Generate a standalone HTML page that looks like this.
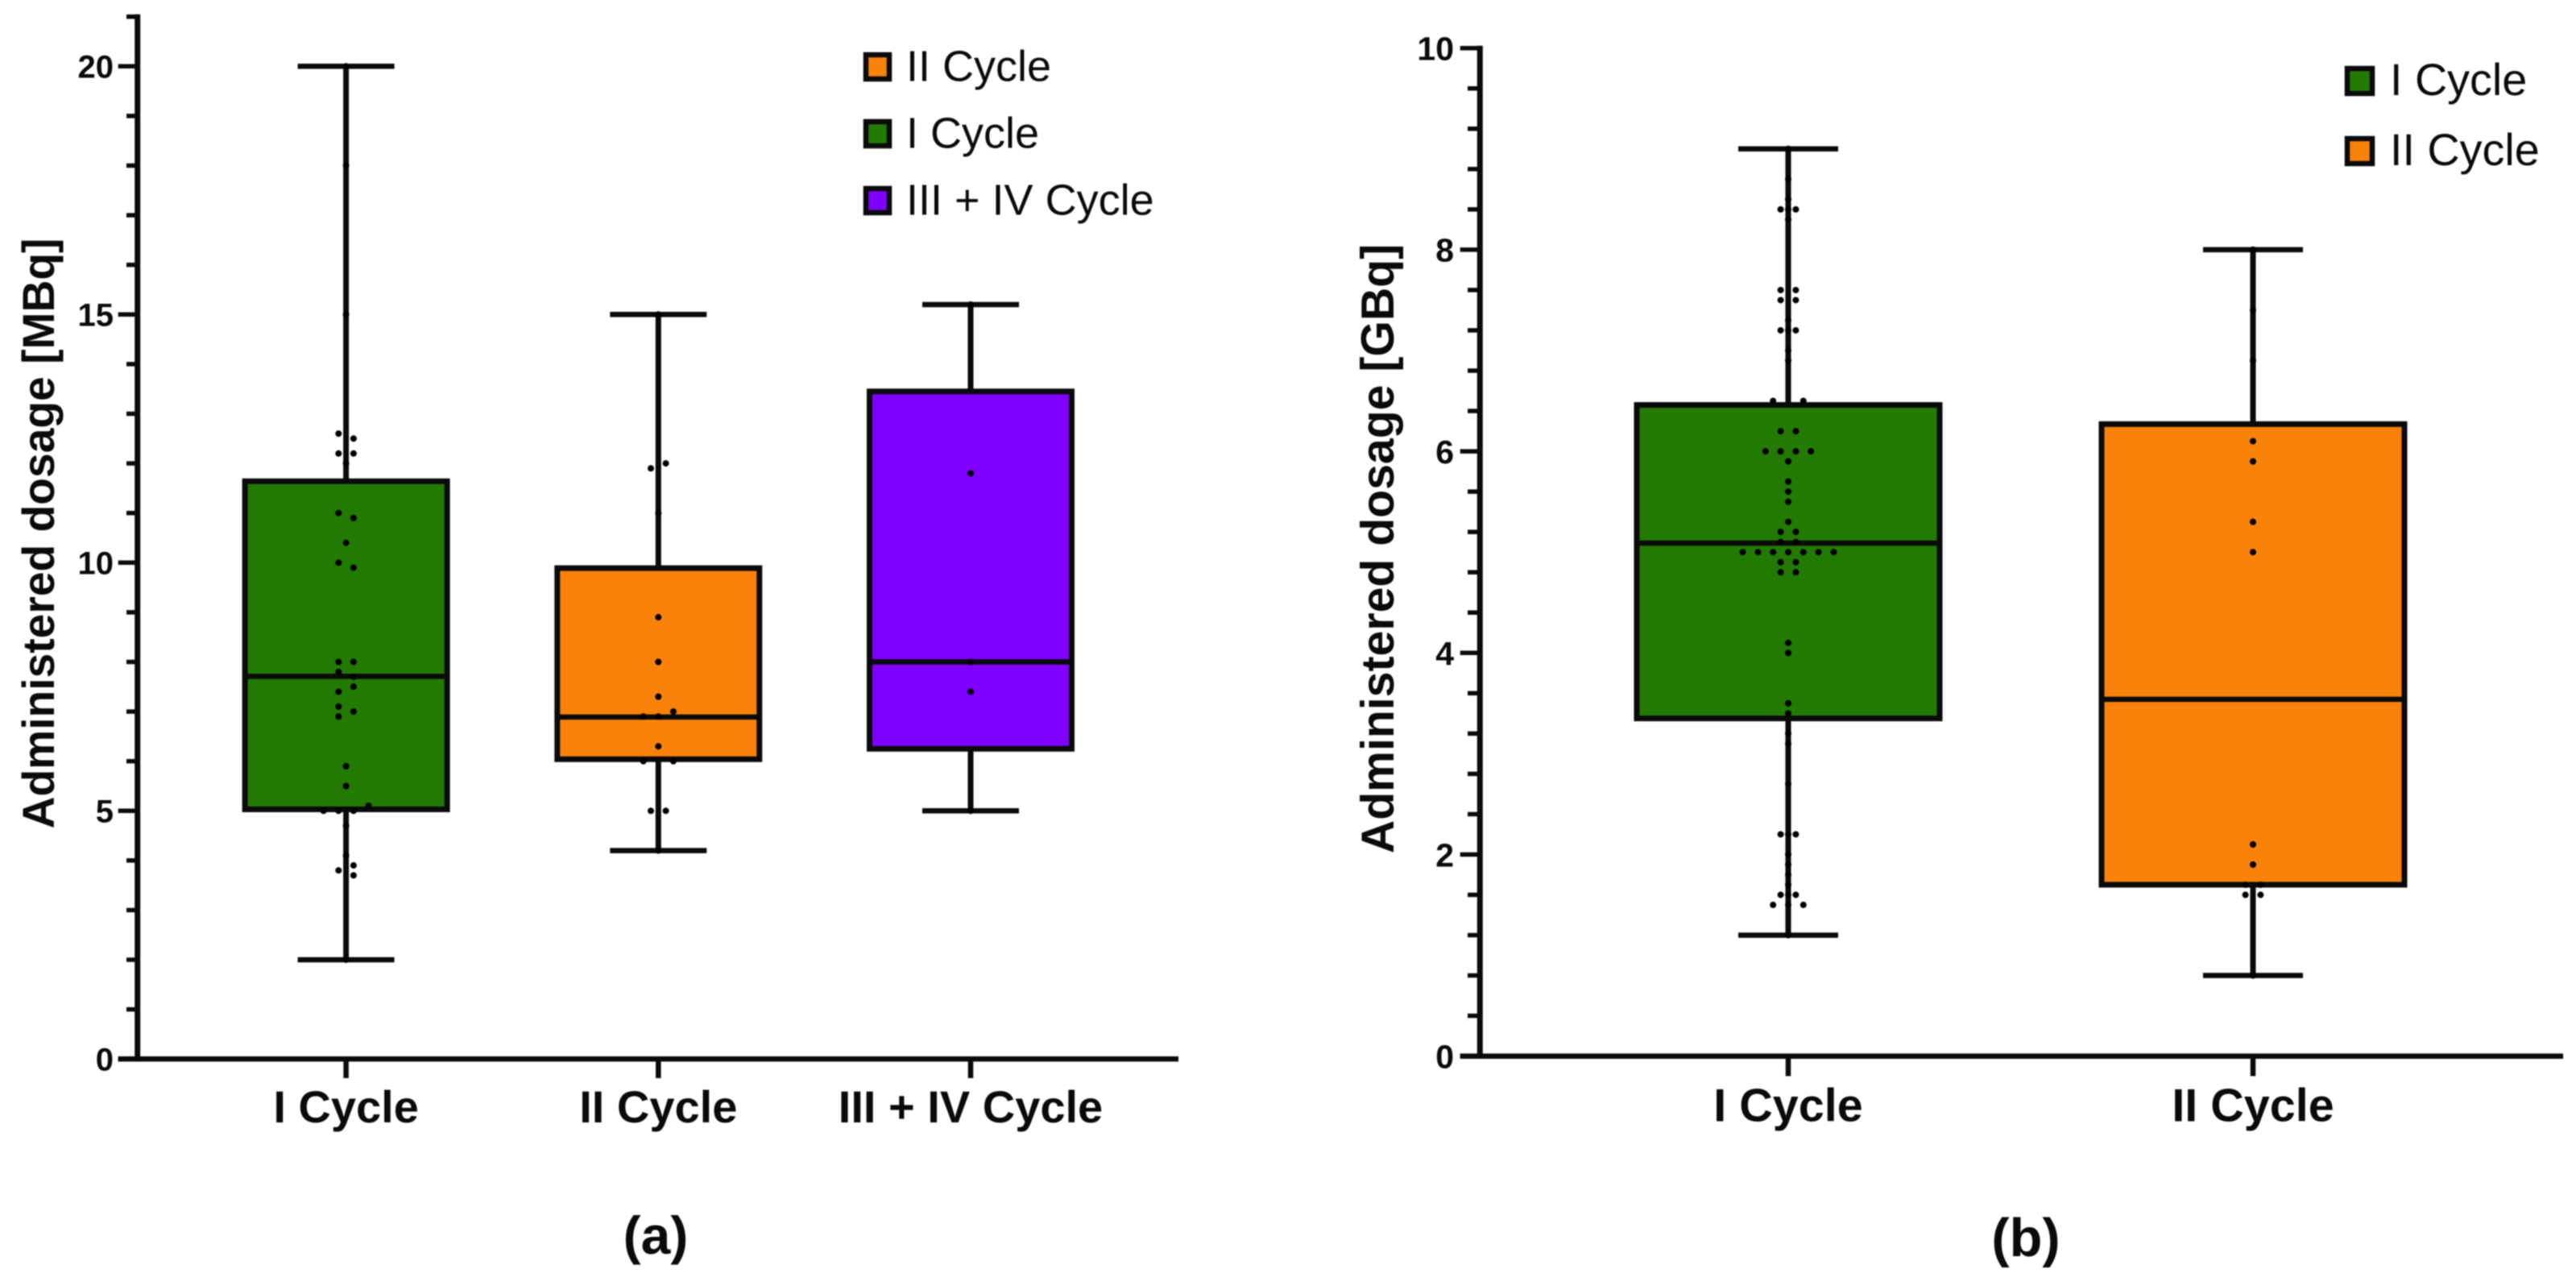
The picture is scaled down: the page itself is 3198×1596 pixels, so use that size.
<!DOCTYPE html>
<html lang="en">
<head>
<meta charset="utf-8">
<title>Administered dosage by treatment cycle</title>
<style>
html,body{margin:0;padding:0;background:#fff;}
body{width:3198px;height:1596px;overflow:hidden;}
svg{display:block;filter:blur(0.9px);font-family:"Liberation Sans",sans-serif;}
text{fill:#0a0a0a;}
.bold{font-weight:700;}
</style>
</head>
<body>
<svg id="figure" xmlns="http://www.w3.org/2000/svg" width="3198" height="1596" viewBox="0 0 3198 1596">
  <rect x="0" y="0" width="3198" height="1596" fill="#ffffff"/>

  <g id="panel-a"></g>
  <g id="panel-b"></g>

  <text class="bold" font-size="55.2" text-anchor="middle" transform="translate(67 662) rotate(-90)">Administered dosage [MBq]</text>
  <text class="bold" font-size="57.2" text-anchor="middle" transform="translate(1730 681) rotate(-90)">Administered dosage [GBq]</text>

  <g>
    <g>
      <rect x="1075" y="68" width="29" height="30" fill="#f9820a" stroke="#0a0a0a" stroke-width="6.5"/>
      <text x="1125" y="100.5" font-size="54">II Cycle</text>
    </g>
    <g>
      <rect x="1075" y="151" width="29" height="30" fill="#227a02" stroke="#0a0a0a" stroke-width="6.5"/>
      <text x="1125" y="183.5" font-size="54">I Cycle</text>
    </g>
    <g>
      <rect x="1075" y="234" width="29" height="30" fill="#7f00ff" stroke="#0a0a0a" stroke-width="6.5"/>
      <text x="1125" y="266.5" font-size="54">III + IV Cycle</text>
    </g>
  </g>

  <g>
    <g>
      <rect x="2914" y="85" width="31" height="31" fill="#227a02" stroke="#0a0a0a" stroke-width="6.5"/>
      <text x="2967" y="118" font-size="55.7">I Cycle</text>
    </g>
    <g>
      <rect x="2914" y="172" width="31" height="31" fill="#f9820a" stroke="#0a0a0a" stroke-width="6.5"/>
      <text x="2967" y="205" font-size="55.7">II Cycle</text>
    </g>
  </g>

  <text class="bold" x="814" y="1556" font-size="66" text-anchor="middle">(a)</text>
  <text class="bold" x="2515" y="1559" font-size="66.8" text-anchor="middle">(b)</text>
</svg>

<script>
// ---- Panel (a) data, MBq ----
const categoriesA = ['I Cycle', 'II Cycle', 'III + IV Cycle'];
const colorsA = ['#227a02', '#f9820a', '#7f00ff'];
const whiskerLowA = [2, 4.2, 5];
const q1A = [5.03, 6.04, 6.25];
const medianA = [7.71, 6.89, 8];
const q3A = [11.64, 9.89, 13.45];
const whiskerHighA = [20, 15, 15.2];
const majorTicksA = [0, 5, 10, 15, 20];
const minorTicksA = [1, 2, 3, 4, 6, 7, 8, 9, 11, 12, 13, 14, 16, 17, 18, 19, 21];

const pointValuesA1 = [20, 18, 15, 12.6, 12.5, 12.2, 12.2, 12, 11, 10.9, 10.4, 10, 9.9, 8, 8, 7.8, 7.7, 7.5, 7.4, 7.1, 7, 6.9, 5.9, 5.5, 5.1, 5, 5, 5, 4.7, 4.1, 3.9, 3.8, 3.7, 2];
const pointSwarmA1  = [0, 0, 0, -1, 1, -1, 1, 0, -1, 1, 0, -1, 1, -1, 1, -1, 1, 1, -1, -1, 1, -1, 0, 0, 3, -3, -1, 1, 0, 0, 1, -1, 1, 0];
const pointValuesA2 = [15, 12, 11.9, 11, 8.9, 8, 7.3, 7, 6.9, 6.9, 6.3, 6, 6, 5, 5, 4.2];
const pointSwarmA2  = [0, 1, -1, 0, 0, 0, 0, 2, -2, 0, 0, -2, 2, -1, 1, 0];
const pointValuesA3 = [15.2, 11.8, 8, 7.4, 5];
const pointSwarmA3  = [0, 0, 0, 0, 0];

// ---- Panel (b) data, GBq ----
const categoriesB = ['I Cycle', 'II Cycle'];
const colorsB = ['#227a02', '#f9820a'];
const whiskerLowB = [1.2, 0.8];
const q1B = [3.35, 1.7];
const medianB = [5.09, 3.54];
const q3B = [6.46, 6.27];
const whiskerHighB = [9, 8];
const majorTicksB = [0, 2, 4, 6, 8, 10];
const minorTicksB = [0.4, 0.8, 1.2, 1.6, 2.4, 2.8, 3.2, 3.6, 4.4, 4.8, 5.2, 5.6, 6.4, 6.8, 7.2, 7.6, 8.4, 8.8, 9.2, 9.6];

const pointValuesB1 = [9, 8.7, 8.5, 8.4, 8.4, 8.4, 8.3, 7.6, 7.6, 7.5, 7.5, 7.3, 7.2, 7.2, 7.2, 7, 6.9, 6.5, 6.5, 6.2, 6.2, 6, 6, 6, 6, 5.9, 5.7, 5.6, 5.5, 5.3, 5.2, 5.2, 5.1, 5.1, 5, 5, 5, 5, 5, 5, 5, 4.9, 4.9, 4.8, 4.8, 4.1, 4, 3.5, 3.4, 3.2, 3.1, 2.7, 2.2, 2.2, 2.2, 2, 1.9, 1.8, 1.7, 1.6, 1.6, 1.6, 1.5, 1.5, 1.5, 1.2];
const pointSwarmB1  = [0, 0, 0, -1, 0, 1, 0, -1, 1, -1, 1, 0, -1, 0, 1, 0, 0, -2, 2, -1, 1, -3, -1, 1, 3, 0, 0, 0, 0, 0, -1, 1, -1, 1, -6, -4, -2, 0, 2, 4, 6, -1, 1, -1, 1, 0, 0, 0, 0, 0, 0, 0, -1, 0, 1, 0, 0, 0, 0, -1, 0, 1, -2, 0, 2, 0];
const pointValuesB2 = [8, 7.4, 6.9, 6.1, 5.9, 5.3, 5, 2.1, 1.9, 1.7, 1.7, 1.6, 1.6, 0.8];
const pointSwarmB2  = [0, 0, 0, 0, 0, 0, 0, 0, 0, -1, 1, -1, 1, 0];

const INK = '#0a0a0a';
const SVG_NS = 'http://www.w3.org/2000/svg';

function makeEl(tag, parent, attrs) {
  const el = document.createElementNS(SVG_NS, tag);
  for (const key in attrs) el.setAttribute(key, attrs[key]);
  parent.appendChild(el);
  return el;
}

function drawPanel(root, cfg) {
  const y = v => cfg.y0 - v * cfg.pxPerUnit;
  const x = i => cfg.x0 + i * cfg.step;

  // boxes, whiskers, medians
  cfg.categories.forEach((cat, i) => {
    const cx = x(i);
    const series = makeEl('g', root, {});
    
    

    const stem = makeEl('line', series, {x1: cx, x2: cx, y1: y(cfg.whiskerLow[i]), y2: y(cfg.whiskerHigh[i]), stroke: INK, 'stroke-width': 7});
    
    

    const capHigh = makeEl('line', series, {x1: cx - cfg.capHalf, x2: cx + cfg.capHalf, y1: y(cfg.whiskerHigh[i]), y2: y(cfg.whiskerHigh[i]), stroke: INK, 'stroke-width': 6.5});
    
    

    const capLow = makeEl('line', series, {x1: cx - cfg.capHalf, x2: cx + cfg.capHalf, y1: y(cfg.whiskerLow[i]), y2: y(cfg.whiskerLow[i]), stroke: INK, 'stroke-width': 6.5});
    
    

    const box = makeEl('rect', series, {x: cx - cfg.boxHalf, width: cfg.boxHalf * 2, y: y(cfg.q3[i]), height: y(cfg.q1[i]) - y(cfg.q3[i]), fill: cfg.colors[i], stroke: INK, 'stroke-width': 7});
    
    

    const med = makeEl('line', series, {x1: cx - cfg.boxHalf, x2: cx + cfg.boxHalf, y1: y(cfg.median[i]), y2: y(cfg.median[i]), stroke: INK, 'stroke-width': 6.5});
    
    

    cfg.pointValues[i].forEach((v, k) => {
      const dot = makeEl('circle', series, {cx: cx + cfg.pointSwarm[i][k] * cfg.slotPx, cy: y(v), r: 4, fill: '#000'});
      
      
    });
  });

  // y axis
  const yAxisGroup = makeEl('g', root, {});
  
  

  const yLine = makeEl('line', yAxisGroup, {x1: cfg.axisX, x2: cfg.axisX, y1: y(cfg.yTop) - 3, y2: cfg.y0 + 3, stroke: INK, 'stroke-width': 7});
  
  

  cfg.minorTicks.forEach(v => {
    const t = makeEl('line', yAxisGroup, {x1: cfg.minorLeft, x2: cfg.axisX, y1: y(v), y2: y(v), stroke: INK, 'stroke-width': 5.5});
    
    
  });

  cfg.majorTicks.forEach(v => {
    const t = makeEl('line', yAxisGroup, {x1: cfg.majorLeft, x2: cfg.axisX, y1: y(v), y2: y(v), stroke: INK, 'stroke-width': 5.5});
    
    
    const lab = makeEl('text', yAxisGroup, {x: cfg.tickLabelRight, y: y(v) + cfg.tickFont * 0.36, 'font-size': cfg.tickFont, 'text-anchor': 'end', 'font-weight': 700});
    lab.textContent = String(v);
    
    
  });

  // x axis
  const xAxisGroup = makeEl('g', root, {});
  
  

  const xLine = makeEl('line', xAxisGroup, {x1: cfg.majorLeft, x2: cfg.axisEnd, y1: cfg.y0, y2: cfg.y0, stroke: INK, 'stroke-width': 6.5});
  
  

  cfg.categories.forEach((cat, i) => {
    const t = makeEl('line', xAxisGroup, {x1: x(i), x2: x(i), y1: cfg.y0, y2: cfg.xTickBottom, stroke: INK, 'stroke-width': 6.5});
    
    
    const lab = makeEl('text', xAxisGroup, {x: x(i), y: cfg.xLabelBase, 'font-size': cfg.xFont, 'text-anchor': 'middle', 'font-weight': 700});
    lab.textContent = cat;
    
    
  });
}

drawPanel(document.getElementById('panel-a'), {
  categories: categoriesA, colors: colorsA,
  whiskerLow: whiskerLowA, q1: q1A, median: medianA, q3: q3A, whiskerHigh: whiskerHighA,
  pointValues: [pointValuesA1, pointValuesA2, pointValuesA3],
  pointSwarm: [pointSwarmA1, pointSwarmA2, pointSwarmA3],
  majorTicks: majorTicksA, minorTicks: minorTicksA, yTop: 21,
  y0: 1314.3, pxPerUnit: 61.6, x0: 429.6, step: 387.7,
  boxHalf: 125.5, capHalf: 60, slotPx: 9.3,
  axisX: 170.7, majorLeft: 146.7, minorLeft: 157, axisEnd: 1463,
  tickLabelRight: 141, tickFont: 40, xFont: 56, xLabelBase: 1393, xTickBottom: 1338
});

drawPanel(document.getElementById('panel-b'), {
  categories: categoriesB, colors: colorsB,
  whiskerLow: whiskerLowB, q1: q1B, median: medianB, q3: q3B, whiskerHigh: whiskerHighB,
  pointValues: [pointValuesB1, pointValuesB2],
  pointSwarm: [pointSwarmB1, pointSwarmB2],
  majorTicks: majorTicksB, minorTicks: minorTicksB, yTop: 10,
  y0: 1310.7, pxPerUnit: 125.1, x0: 2220, step: 577,
  boxHalf: 188, capHalf: 62, slotPx: 9.4,
  axisX: 1837.3, majorLeft: 1812.7, minorLeft: 1822, axisEnd: 3182,
  tickLabelRight: 1805, tickFont: 41, xFont: 57.5, xLabelBase: 1391.4, xTickBottom: 1335.5
});
</script>
</body>
</html>
